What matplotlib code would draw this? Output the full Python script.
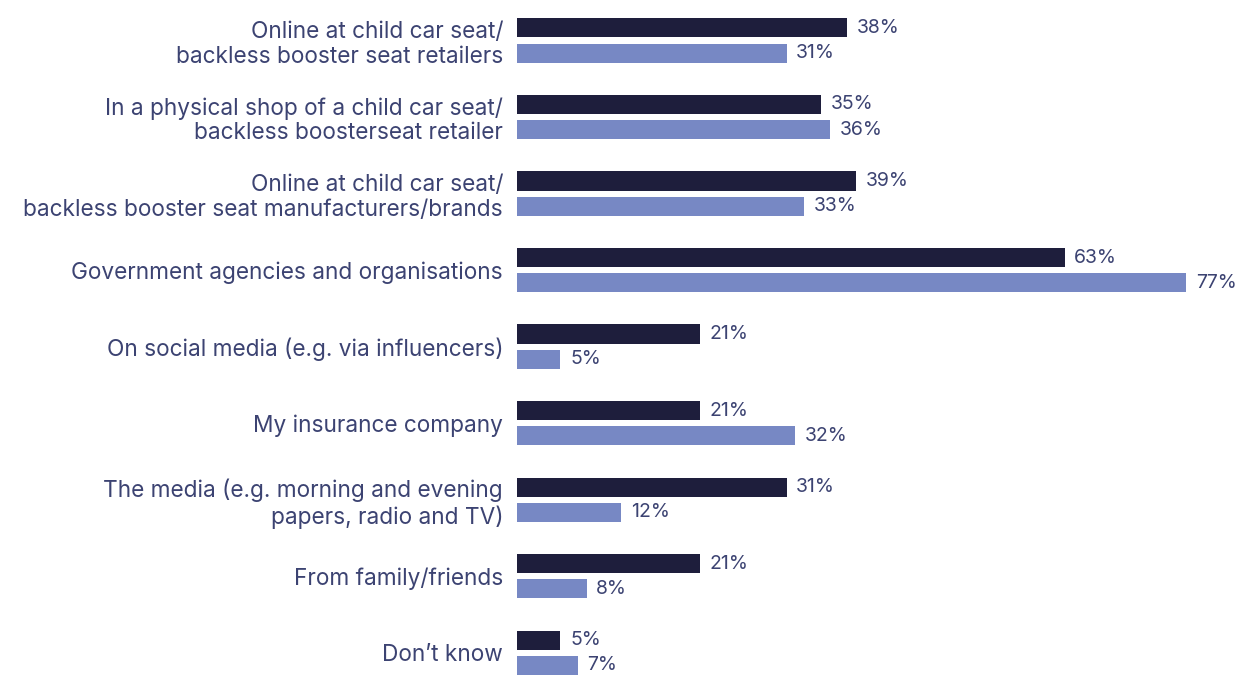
import numpy as np
import matplotlib.pyplot as plt

# Where people look for child car seat information, two survey waves
categories = [
    "Online at child car seat/\nbackless booster seat retailers",
    "In a physical shop of a child car seat/\nbackless boosterseat retailer",
    "Online at child car seat/\nbackless booster seat manufacturers/brands",
    "Government agencies and organisations",
    "On social media (e.g. via influencers)",
    "My insurance company",
    "The media (e.g. morning and evening\npapers, radio and TV)",
    "From family/friends",
    "Don\u2019t know",
]
series_a = [38, 35, 39, 63, 21, 21, 31, 21, 5]
series_b = [31, 36, 33, 77, 5, 32, 12, 8, 7]

DARK = "#1e1e3c"
LIGHT = "#7788c4"
TEXT = "#3c4372"

plt.rcParams["font.family"] = ["Inter", "DejaVu Sans"]

fig = plt.figure(figsize=(12.36, 6.75), dpi=100)
ax = fig.add_axes([517 / 1236, 0, 719 / 1236, 1])

y = np.arange(len(categories))
h = 0.25
off = 0.165
ax.barh(y - off, series_a, height=h, color=DARK)
ax.barh(y + off, series_b, height=h, color=LIGHT)

for yi, a, b in zip(y, series_a, series_b):
    ax.text(a + 1.1, yi - off, f"{a}%", va="center", ha="left",
            fontsize=14, color=TEXT)
    ax.text(b + 1.1, yi + off, f"{b}%", va="center", ha="left",
            fontsize=14, color=TEXT)

ax.set_xlim(0, 82.7)
ax.set_ylim(8.29, -0.53)
ax.set_yticks(y)
ax.set_yticklabels(categories, fontsize=16.3, color=TEXT, linespacing=1.15,
                   ha="right")
ax.tick_params(axis="y", length=0, pad=10)
ax.set_xticks([])
for s in ax.spines.values():
    s.set_visible(False)

fig.savefig("out.png", dpi=100)
